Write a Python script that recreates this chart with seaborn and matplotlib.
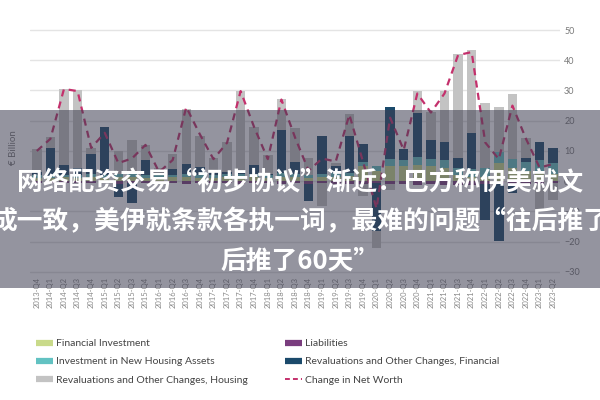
import numpy as np
import matplotlib
matplotlib.use("Agg")
import matplotlib.pyplot as plt
import seaborn as sns
from matplotlib.lines import Line2D
from matplotlib.patches import Rectangle

quarters = ["2013-Q4",
            "2014-Q1", "2014-Q2", "2014-Q3", "2014-Q4",
            "2015-Q1", "2015-Q2", "2015-Q3", "2015-Q4",
            "2016-Q1", "2016-Q2", "2016-Q3", "2016-Q4",
            "2017-Q1", "2017-Q2", "2017-Q3", "2017-Q4",
            "2018-Q1", "2018-Q2", "2018-Q3", "2018-Q4",
            "2019-Q1", "2019-Q2", "2019-Q3", "2019-Q4",
            "2020-Q1", "2020-Q2", "2020-Q3", "2020-Q4",
            "2021-Q1", "2021-Q2", "2021-Q3", "2021-Q4",
            "2022-Q1", "2022-Q2", "2022-Q3", "2022-Q4",
            "2023-Q1", "2023-Q2"]

fin_inv = [1.2, 1.0, 1.3, 1.1, 1.4, 1.2, 1.5, 1.3, 1.2, 1.0, 1.3, 1.4, 1.2,
           1.1, 1.5, 1.3, 1.4, 1.2, 1.5, 1.3, 1.2, 1.4, 1.5, 1.6, 5.0,
           3.5, 5.0, 5.0, 5.5, 5.0, 4.5, 2.0, 1.5, 1.5, 6.0, 4.4, 3.5, 3.0, 2.5]
housing_inv = [0.8, 0.8, 0.9, 0.9, 0.9, 1.0, 1.0, 1.0, 1.0, 0.9, 0.9, 1.0, 1.0,
               0.9, 1.0, 1.0, 1.0, 1.0, 1.1, 1.1, 1.0, 1.1, 1.1, 1.2, 1.5,
               1.5, 2.5, 2.0, 2.5, 2.5, 2.5, 2.5, 2.5, 3.0, 3.5, 3.0, 3.0, 4.0, 3.5]
fin_reval = [1.0, 9.2, 3.3, 2.5, 6.7, 15.8, -4.5, -6.5, 4.8, 0.5, 1.8, 3.3, 2.6,
             0.6, 0.5, 1.0, 2.9, 0.3, 14.4, 4.1, -5.6, 12.5, 2.4, 12.2, 5.8,
             -16.0, 17.2, 3.8, 14.4, 6.1, 6.0, 3.3, 11.8, -12.0, -19.0, -3.0, 1.2, 5.8, 5.0]
housing_reval = [7.5, 3.5, 25.0, 25.5, 2.0, 0.0, 7.5, 11.4, 5.0, 2.1, 5.0, 18.3, 10.2,
                 5.1, 9.8, 26.5, 12.7, 6.0, 10.3, 11.0, 5.6, -7.5, 1.0, 7.3, -4.0,
                 -5.5, -2.0, 0.0, 7.3, 9.2, 16.7, 34.2, 27.5, 21.3, 14.9, 21.6, 6.7, -9.0, -5.6]
liabilities = [-0.6, -0.5, -0.7, -0.6, -0.7, -0.6, -0.8, -0.7, -0.6, -0.7, -0.6, -0.8, -0.7,
               -0.6, -0.7, -0.8, -0.7, -0.6, -0.8, -0.7, -0.8, -0.7, -0.8, -0.9, -0.8,
               -0.6, -0.9, -1.0, -1.1, -1.0, -1.2, -1.1, -1.2, -1.0, -0.9, -0.8, -0.9, -0.8, -0.7]
net_worth = [10.0, 14.0, 30.5, 29.8, 11.0, 16.0, 6.0, 7.5, 12.0, 3.0, 7.0, 24.5, 15.5,
             7.3, 12.7, 29.8, 17.8, 7.3, 27.0, 14.5, 3.5, 7.5, 6.5, 22.0, 6.5,
             -9.0, 21.0, 10.3, 29.0, 22.7, 29.0, 41.7, 42.7, 12.8, 7.3, 25.0, 14.0, 4.5, 5.7]

c_fin_inv = "#c9da8a"
c_house_inv = "#62c2c2"
c_house_rev = "#c3c3c3"
c_liab = "#7a3d7e"
c_fin_rev = "#1b4a6b"
c_net = "#c4306c"

sns.set_theme(style="white")
plt.rcParams["font.family"] = ["Lato", "DejaVu Sans"]

fig = plt.figure(figsize=(6, 4), dpi=100)
ax = fig.add_axes([0.05, 0.315, 0.8833, 0.6175])

# positive and negative stacking
pos_layers = [("fi", fin_inv, c_fin_inv), ("hi", housing_inv, c_house_inv),
              ("fr", fin_reval, c_fin_rev), ("hr", housing_reval, c_house_rev)]
neg_layers = [("li", liabilities, c_liab), ("fr", fin_reval, c_fin_rev),
              ("hr", housing_reval, c_house_rev)]

n = len(quarters)
cum = np.zeros(n)
pos_tops = []
for name, vals, col in pos_layers:
    v = np.clip(np.array(vals, float), 0, None)
    cum = cum + v
    pos_tops.append((cum.copy(), col))
cum = np.zeros(n)
neg_bots = []
for name, vals, col in neg_layers:
    v = np.clip(np.array(vals, float), None, 0)
    cum = cum + v
    neg_bots.append((cum.copy(), col))

for tops, col in reversed(pos_tops):
    sns.barplot(x=quarters, y=tops, color=col, saturation=1, width=0.7,
                linewidth=0, errorbar=None, ax=ax, zorder=2)
for bots, col in reversed(neg_bots):
    sns.barplot(x=quarters, y=bots, color=col, saturation=1, width=0.7,
                linewidth=0, errorbar=None, ax=ax, zorder=2)

sns.lineplot(x=np.arange(n), y=net_worth, color=c_net, lw=1.6, ax=ax, zorder=3)
ax.lines[-1].set_dashes([3.2, 2.4])

ax.set_xlim(-0.5, n - 0.5)
ax.set_ylim(-30.7, 51)
ax.set_yticks([-30, -20, -10, 0, 10, 20, 30, 40, 50])
ax.yaxis.tick_right()
ax.tick_params(axis="y", length=0, pad=3, labelsize=6.5, labelcolor="#7a7a7a")
ax.tick_params(axis="x", length=0, pad=2, labelsize=5.5, labelcolor="#888888",
               rotation=90)
ax.grid(axis="y", color="#e4e4e4", lw=1, zorder=0)
ax.set_axisbelow(True)
for s in ax.spines.values():
    s.set_visible(False)
ax.set_xlabel("")
ax.set_ylabel("")

fig.text(0.023, 0.63, "€ Billion", rotation=90, fontsize=7, color="#7a7a7a",
         ha="center", va="center")

def h(col):
    return Line2D([0], [0], color=col, lw=4.5, solid_capstyle="butt")

leg_kw = dict(loc="upper left", frameon=False, fontsize=7.5, handlelength=1.65,
              handletextpad=0.3, labelspacing=0.85, borderpad=0, borderaxespad=0,
              labelcolor="#444444")
fig.legend([h(c_fin_inv), h(c_house_inv), h(c_house_rev)],
           ["Financial Investment", "Investment in New Housing Assets",
            "Revaluations and Other Changes, Housing"],
           bbox_to_anchor=(0.06, 0.1525), **leg_kw)
fig.legend([h(c_liab), h(c_fin_rev),
            Line2D([0], [0], color=c_net, lw=1.4, dashes=[2.5, 1.6])],
           ["Liabilities", "Revaluations and Other Changes, Financial",
            "Change in Net Worth"],
           bbox_to_anchor=(0.475, 0.1525), **leg_kw)

# overlay banner
fig.add_artist(Rectangle((0, 0.28), 1, 0.445, transform=fig.transFigure,
                         facecolor=(60/255, 60/255, 80/255), alpha=0.55,
                         edgecolor="none", zorder=5))
cjk = ["Noto Sans CJK SC", "DejaVu Sans"]
for y, t in [(0.5425, "网络配资交易“初步协议”渐近：巴方称伊美就文"),
             (0.445, "成一致，美伊就条款各执一词，最难的问题“往后推了"),
             (0.3475, "后推了60天”")]:
    fig.text(0.5, y, t, ha="center", va="center", fontsize=18.5,
             fontweight="bold", color="white", family=cjk, zorder=6)

fig.savefig("out.png", dpi=100)
